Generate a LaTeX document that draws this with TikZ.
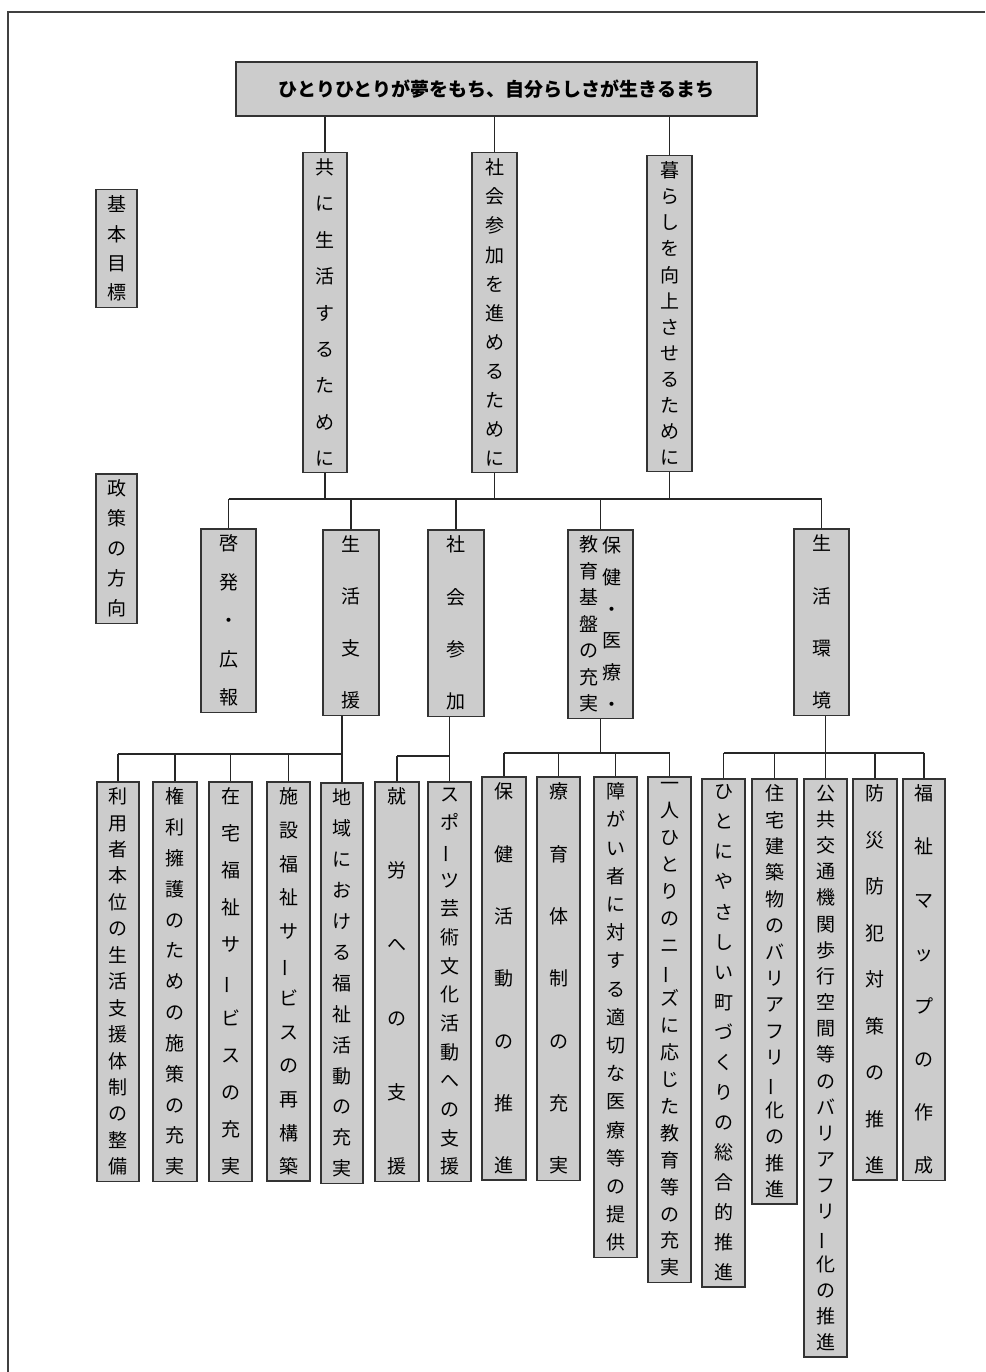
\documentclass[tikz,border=0pt]{standalone}
\usepackage{fontspec}
\newfontfamily\jpfont{Noto Sans CJK JP}
\usepackage{tikz}

\makeatletter
% vertical text, characters spread over the given height
\newcommand\tate[2]{\parbox[c][#1][s]{1.25em}{\tate@first#2\relax}}
\def\tate@char#1{\hbox to 1.25em{\hss#1\hss}}
\def\tate@first#1{\tate@char{#1}\tate@rest}
\def\tate@rest#1{\ifx\relax#1\else\vfill\tate@char{#1}\expandafter\tate@rest\fi}
\makeatother
\newcommand\bou{\rotatebox[origin=c]{90}{ー}}

% box: name, left, right, top, bottom, text
\newcommand\tbox[6]{%
  \node[tatebox, minimum width={(#3-#2)*1pt}, minimum height={(#5-#4)*1pt}]
    (#1) at ({(#2+#3)/2},#4) {\tate{\dimexpr#5pt-#4pt-12pt\relax}{#6}};}

\begin{document}
\begin{tikzpicture}[x=1pt,y=-1pt,
  tatebox/.style={draw=black!80, fill=black!20, line width=1.5pt, anchor=north,
    inner xsep=0pt, inner ysep=6pt, font=\jpfont\fontsize{19}{22}\selectfont},
  conn/.style={draw=black!85, line width=1.2pt}]

\useasboundingbox (0,0) rectangle (985,1372);

% Frame
\draw[line width=2pt, black!75] (985,12) -- (8,12) -- (8,1372);

% Title
\node[draw=black!80, fill=black!20, line width=1.5pt, minimum width=521pt,
  minimum height=54pt, font=\jpfont\bfseries\fontsize{19}{21}\selectfont]
  (goal) at (496.5,89) {ひとりひとりが夢をもち、自分らしさが生きるまち};

% Side labels
\tbox{kihon}{96}{137}{189}{305}{基本目標}
\tbox{seisaku}{96}{137}{473}{621}{政策の方向}

% Basic goals
\tbox{k1}{303}{347}{152}{471}{共に生活するために}
\tbox{k2}{472}{517}{152}{471}{社会参加を進めるために}
\tbox{k3}{647}{692}{155}{470}{暮らしを向上させるために}

% Policy directions
\tbox{p1}{201}{256}{528}{710}{啓発・広報}
\tbox{p2}{323}{379}{529}{713}{生活支援}
\tbox{p3}{428}{484}{529}{714}{社会参加}
\node[tatebox, minimum width=65pt, minimum height=187pt] (p4) at (600.5,529)
  {\tate{175pt}{教育基盤の充実}\tate{175pt}{保健・医療・}};
\tbox{p5}{794}{849}{528}{713}{生活環境}

% Measures
\tbox{c1}{97}{139}{781}{1179}{利用者本位の生活支援体制の整備}
\tbox{c2}{153}{197}{781}{1179}{権利擁護のための施策の充実}
\tbox{c3}{209}{252}{781}{1179}{在宅福祉サ\bou ビスの充実}
\tbox{c4}{267}{310}{781}{1179}{施設福祉サ\bou ビスの再構築}
\tbox{c5}{321}{363}{782}{1181}{地域における福祉活動の充実}
\tbox{c6}{375}{419}{781}{1179}{就労への支援}
\tbox{c7}{428}{471}{781}{1179}{スポ\bou ツ芸術文化活動への支援}
\tbox{c8}{482}{526}{776}{1178}{保健活動の推進}
\tbox{c9}{537}{580}{776}{1178}{療育体制の充実}
\tbox{c10}{594}{637}{776}{1255}{障がい者に対する適切な医療等の提供}
\tbox{c11}{648}{691}{776}{1280}{一人ひとりのニ\bou ズに応じた教育等の充実}
\tbox{c12}{702}{745}{778}{1285}{ひとにやさしい町づくりの総合的推進}
\tbox{c13}{752}{797}{778}{1202}{住宅建築物のバリアフリ\bou 化の推進}
\tbox{c14}{804}{847}{778}{1355}{公共交通機関歩行空間等のバリアフリ\bou 化の推進}
\tbox{c15}{853}{897}{778}{1178}{防災防犯対策の推進}
\tbox{c16}{903}{945}{778}{1178}{福祉マップの作成}

% Title to goals
\foreach \i in {1,2,3}
  \draw[conn] (k\i.north) -- (k\i.north |- goal.south);

% Goals to directions
\coordinate (bus1) at (0,499);
\draw[conn] (p1.north |- bus1) -- (p5.north |- bus1);
\foreach \i in {1,2,3}
  \draw[conn] (k\i.south) -- (k\i.south |- bus1);
\foreach \i in {1,...,5}
  \draw[conn] (p\i.north) -- (p\i.north |- bus1);

% Directions to measures
\coordinate (bus2) at (0,754);
\draw[conn] (c1.north |- bus2) -- (c5.north |- bus2);
\draw[conn] (p2.south -| c5.north) -- (c5.north |- bus2);
\foreach \i in {1,...,5}
  \draw[conn] (c\i.north) -- (c\i.north |- bus2);

\coordinate (bus3) at (0,756);
\draw[conn] (c6.north |- bus3) -- (c7.north |- bus3);
\draw[conn] (p3.south -| c7.north) -- (c7.north |- bus3);
\foreach \i in {6,7}
  \draw[conn] (c\i.north) -- (c\i.north |- bus3);

\coordinate (bus4) at (0,753);
\draw[conn] (c8.north |- bus4) -- (c11.north |- bus4);
\draw[conn] (p4.south) -- (p4.south |- bus4);
\foreach \i in {8,...,11}
  \draw[conn] (c\i.north) -- (c\i.north |- bus4);

\coordinate (bus5) at (0,753);
\draw[conn] (c12.north |- bus5) -- (c16.north |- bus5);
\draw[conn] (p5.south -| c14.north) -- (c14.north |- bus5);
\foreach \i in {12,...,16}
  \draw[conn] (c\i.north) -- (c\i.north |- bus5);

\end{tikzpicture}
\end{document}
